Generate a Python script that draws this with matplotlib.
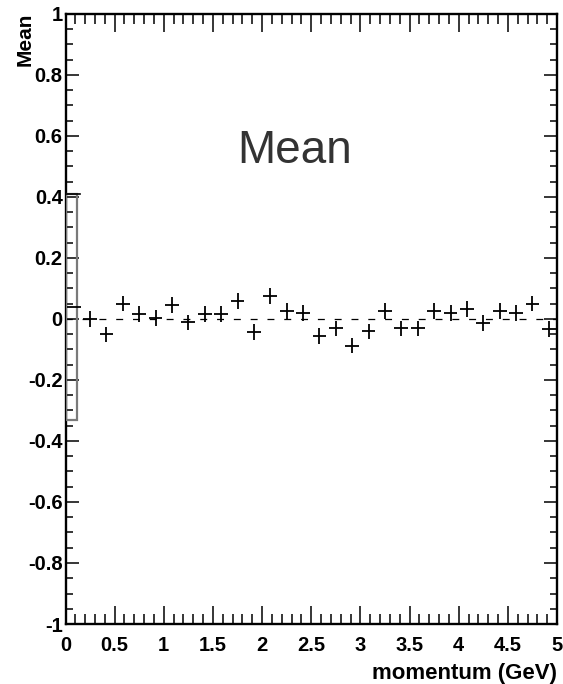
import numpy as np
import matplotlib
matplotlib.use("Agg")
import matplotlib.pyplot as plt
from matplotlib.patches import Rectangle
from matplotlib.ticker import FixedLocator, FixedFormatter, MultipleLocator

plt.rcParams["font.family"] = ["Liberation Sans", "DejaVu Sans"]
plt.rcParams["lines.scale_dashes"] = False

# momentum binning: 30 bins between 0 and 5 GeV
x_min, x_max, n_bins = 0.0, 5.0, 30
bin_width = (x_max - x_min) / n_bins
bin_centers = x_min + bin_width * (np.arange(n_bins) + 0.5)

# mean per momentum bin and its uncertainty
mean_values = [0.04, 0.0, -0.05, 0.05, 0.016, 0.003, 0.046, -0.011, 0.016, 0.016,
               0.059, -0.043, 0.075, 0.026, 0.02, -0.056, -0.03, -0.088, -0.04, 0.026,
               -0.03, -0.03, 0.026, 0.02, 0.033, -0.013, 0.026, 0.02, 0.05, -0.033]
mean_errors = [0.37] + [0.025] * 29

y_ticks = [-1.0, -0.8, -0.6, -0.4, -0.2, 0.0, 0.2, 0.4, 0.6, 0.8, 1.0]
y_tick_labels = ["-1", "-0.8", "-0.6", "-0.4", "-0.2", "0", "0.2", "0.4", "0.6", "0.8", "1"]
x_ticks = [0, 0.5, 1, 1.5, 2, 2.5, 3, 3.5, 4, 4.5, 5]
x_tick_labels = ["0", "0.5", "1", "1.5", "2", "2.5", "3", "3.5", "4", "4.5", "5"]

W, H = 563, 684
fig = plt.figure(figsize=(W / 100, H / 100), dpi=100)
ax = fig.add_axes([65.5 / W, 1 - 624 / H, 491.5 / W, 610 / H])
ax.set_xlim(x_min, x_max)
ax.set_ylim(-1, 1)

# reference line at zero
ax.plot([x_min, x_max], [0, 0], color="black", lw=0.9,
        linestyle=(0.5, (5.0, 7.1)), zorder=2)

mv = np.array(mean_values)
me = np.array(mean_errors)

# first bin: wide uncertainty band drawn as an open box
ax.add_patch(Rectangle((x_min + 0.005, mv[0] - me[0]), 0.11, 2 * me[0],
                       fill=False, edgecolor="#7a7a7a", lw=1.6, zorder=3))
ax.plot([x_min, x_min + 0.15], [mv[0] + me[0], mv[0] + me[0]], color="black", lw=1.2, zorder=4)

ax.errorbar(bin_centers, mv, xerr=0.07, yerr=np.where(me > 0.1, 0, me),
            fmt="none", ecolor="black", elinewidth=1.3, capsize=0, zorder=4)

ax.text(2.33, 0.51, "Mean", fontsize=33, color="#333333", ha="center", va="baseline")

# axis frame and ticks
for sp in ax.spines.values():
    sp.set_linewidth(1.7)
ax.yaxis.set_major_locator(FixedLocator(y_ticks))
ax.yaxis.set_major_formatter(FixedFormatter(y_tick_labels))
ax.yaxis.set_minor_locator(MultipleLocator(0.05))
ax.xaxis.set_major_locator(FixedLocator(x_ticks))
ax.xaxis.set_major_formatter(FixedFormatter(x_tick_labels))
ax.xaxis.set_minor_locator(MultipleLocator(0.1))

ax.tick_params(axis="both", which="both", direction="in", top=True, right=True,
               width=1.1, labelsize=14.5)
ax.tick_params(axis="y", which="major", length=9.5, pad=2)
ax.tick_params(axis="y", which="minor", length=5)
ax.tick_params(axis="x", which="major", length=13, pad=8.5)
ax.tick_params(axis="x", which="minor", length=7)
for lab in ax.get_xticklabels() + ax.get_yticklabels():
    lab.set_fontweight("bold")

fig.text(557 / W, 1 - 673 / H, "momentum (GeV)", fontsize=16, fontweight="bold",
         ha="right", va="center")
fig.text(25 / W, 1 - 13 / H, "Mean", fontsize=15, fontweight="bold",
         rotation=90, ha="center", va="top")

fig.savefig("out.png", dpi=100, facecolor="white")
